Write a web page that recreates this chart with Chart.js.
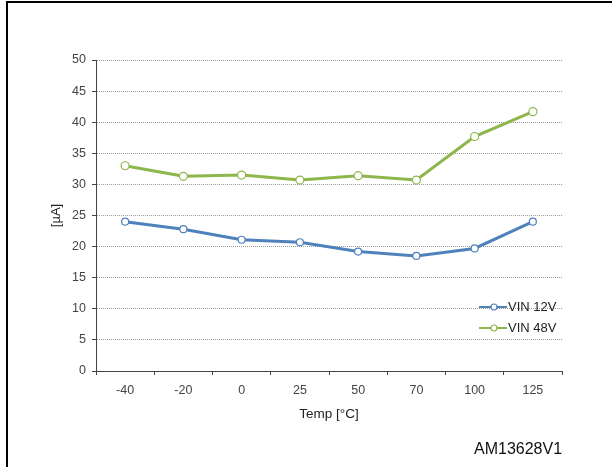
<!DOCTYPE html>
<html>
<head>
<meta charset="utf-8">
<script src="https://cdn.jsdelivr.net/npm/chart.js@4"></script>
<style>
  html, body { margin: 0; padding: 0; background: #fff; }
  #wrap { position: relative; width: 614px; height: 467px; overflow: hidden; }
  #frame { position: absolute; left: 6px; top: 1px; width: 604px; height: 470px;
           border-left: 2px solid #000; border-top: 2px solid #000; }
  #code { position: absolute; left: 474px; top: 440px; font: 16px "Liberation Sans", Arial, sans-serif; color: #111; }
</style>
</head>
<body>
<div id="wrap">
  <div id="frame"></div>
  <canvas id="chart" width="614" height="467"></canvas>
  <div id="code">AM13628V1</div>
</div>
<script>
const temps = ["-40", "-20", "0", "25", "50", "70", "100", "125"];
const vin12 = [24.0, 22.8, 21.1, 20.7, 19.2, 18.5, 19.7, 24.0];
const vin48 = [33.0, 31.3, 31.5, 30.7, 31.4, 30.7, 37.7, 41.7];

const blue = "#4f81bd";
const green = "#8db64c";
const font = "'Liberation Sans', Arial, sans-serif";

// legend drawn by hand at the right side of the plot
const legendPlugin = {
  id: "sideLegend",
  afterDraw(chart) {
    const ctx = chart.ctx;
    chart.data.datasets.forEach((ds, i) => {
      const y = 307 + i * 21;
      ctx.save();
      ctx.strokeStyle = ds.borderColor;
      ctx.lineWidth = 2;
      ctx.beginPath();
      ctx.moveTo(479, y);
      ctx.lineTo(507, y);
      ctx.stroke();
      ctx.beginPath();
      ctx.arc(494, y, 3, 0, Math.PI * 2);
      ctx.fillStyle = "#fff";
      ctx.fill();
      ctx.lineWidth = 1.2;
      ctx.stroke();
      ctx.fillStyle = "#222";
      ctx.font = "13px " + font;
      ctx.textBaseline = "middle";
      ctx.fillText(ds.label, 508, y);
      ctx.restore();
    });
  }
};

new Chart(document.getElementById("chart"), {
  type: "line",
  data: {
    labels: temps,
    datasets: [
      { label: "VIN 12V", data: vin12, borderColor: blue, backgroundColor: "#fff",
        borderWidth: 3, pointRadius: 3.5, pointBorderWidth: 1.2, pointBackgroundColor: "#fff" },
      { label: "VIN 48V", data: vin48, borderColor: green, backgroundColor: "#fff",
        borderWidth: 3, pointRadius: 4, pointBorderWidth: 1.2, pointBackgroundColor: "#fff" },
    ],
  },
  options: {
    responsive: false,
    animation: false,
    layout: { padding: { left: 6, top: 60, right: 52, bottom: 0 } },
    plugins: { legend: { display: false }, tooltip: { enabled: false } },
    scales: {
      x: {
        offset: true,
        grid: { offset: true, drawOnChartArea: false, drawTicks: true, tickLength: 4, tickColor: "#444" },
        border: { color: "#444", width: 1 },
        ticks: { color: "#444", font: { family: font, size: 12.5 }, padding: 8, maxRotation: 0 },
        title: { display: true, text: "Temp [°C]", color: "#222", font: { family: font, size: 13.5 }, padding: { bottom: 45 } },
        afterFit(scale) { scale.height = 96; },
      },
      y: {
        min: 0,
        max: 50,
        ticks: { stepSize: 5, color: "#444", font: { family: font, size: 12.5 }, padding: 6 },
        grid: { color: "#999", tickColor: "#444", tickLength: 4, tickBorderDash: [] },
        border: { color: "#444", width: 1, dash: [1, 1] },
        title: { display: true, text: "[µA]", color: "#222", font: { family: font, size: 13 }, padding: { top: 43 } },
        afterFit(scale) { scale.width = 90; },
      },
    },
  },
  plugins: [legendPlugin],
});
</script>
</body>
</html>
